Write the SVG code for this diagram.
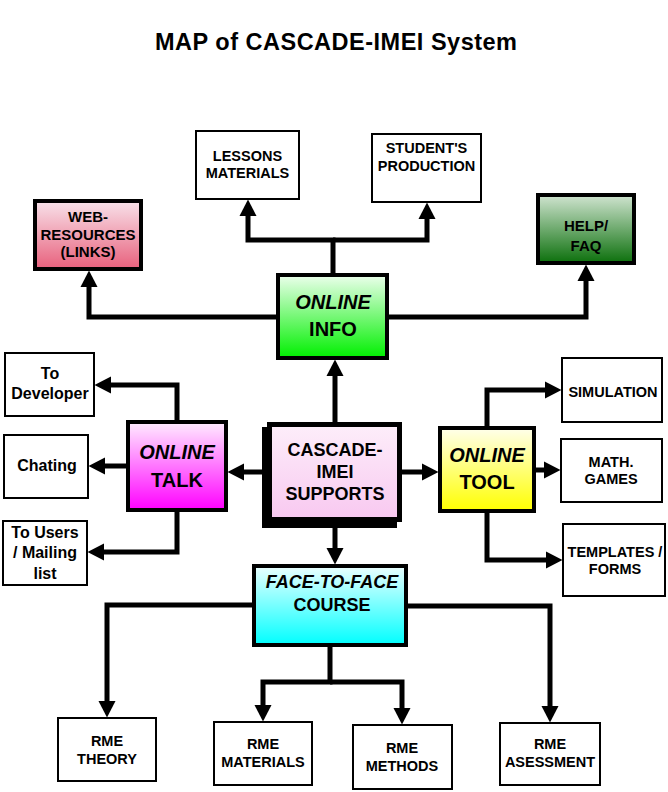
<svg xmlns="http://www.w3.org/2000/svg" width="668" height="792" viewBox="0 0 668 792">
<style>
text{font-family:"Liberation Sans",Arial,sans-serif;font-weight:bold;fill:#000;text-anchor:middle}
.s{font-size:14.5px}
.m{font-size:15px}
.l{font-size:16px}
.b{font-size:20px}
.c{font-size:18px}
.i{font-style:italic}
.thin{stroke:#000;stroke-width:2;fill:#fff}
.thick{stroke:#000;stroke-width:4}
.con path{fill:none;stroke:#000;stroke-width:5;stroke-linejoin:miter}
.con path.a{marker-end:url(#arr)}
</style>
<defs>
<marker id="arr" viewBox="0 -9 17 18" markerWidth="17" markerHeight="18" refX="0" refY="0" markerUnits="userSpaceOnUse" orient="auto">
<path d="M0,-8.5 L16.5,0 L0,8.5 Z" fill="#000"/>
</marker>
<linearGradient id="gWeb" x1="0" y1="0" x2="0" y2="1"><stop offset="0" stop-color="#f8e2ea"/><stop offset="1" stop-color="#e8607c"/></linearGradient>
<linearGradient id="gHelp" x1="0" y1="0" x2="0" y2="1"><stop offset="0" stop-color="#d0e4d0"/><stop offset="1" stop-color="#0c700c"/></linearGradient>
<linearGradient id="gInfo" x1="0" y1="0" x2="0" y2="1"><stop offset="0" stop-color="#ecffec"/><stop offset="1" stop-color="#00f000"/></linearGradient>
<linearGradient id="gTalk" x1="0" y1="0" x2="0" y2="1"><stop offset="0" stop-color="#ffecff"/><stop offset="1" stop-color="#ff00ff"/></linearGradient>
<linearGradient id="gTool" x1="0" y1="0" x2="0" y2="1"><stop offset="0" stop-color="#ffffec"/><stop offset="1" stop-color="#ffff00"/></linearGradient>
<linearGradient id="gFace" x1="0" y1="0" x2="0" y2="1"><stop offset="0" stop-color="#ecffff"/><stop offset="1" stop-color="#00ffff"/></linearGradient>
<linearGradient id="gCas" x1="0" y1="0" x2="0" y2="1"><stop offset="0" stop-color="#fdeefa"/><stop offset="1" stop-color="#f8c8f0"/></linearGradient>
</defs>
<rect width="668" height="792" fill="#fff"/>
<text x="336" y="50" style="font-size:23.5px" textLength="362" lengthAdjust="spacing">MAP of CASCADE-IMEI System</text>

<g class="con" id="connectors">
<path class="a" d="M333,273 V240 H248 V216"/>
<path class="a" d="M333,240 H427 V219"/>
<path class="a" d="M276,317 H89 V287"/>
<path class="a" d="M389,317 H586 V281"/>
<path class="a" d="M335,422 V376"/>
<path class="a" d="M262,472 H244"/>
<path class="a" d="M402,472 H422"/>
<path class="a" d="M335,528 V548"/>
<path class="a" d="M177,420 V385 H111"/>
<path class="a" d="M126,466 H105"/>
<path class="a" d="M177,512 V552 H104"/>
<path class="a" d="M487,426 V390 H545"/>
<path class="a" d="M536,470 H544"/>
<path class="a" d="M487,513 V560 H546"/>
<path class="a" d="M252,605 H107 V701"/>
<path class="a" d="M330,647 V682 H263 V705"/>
<path class="a" d="M330,682 H402 V708"/>
<path class="a" d="M408,606 H550 V706"/>
</g>

<g id="lessons"><rect class="thin" x="196" y="131" width="103" height="68"/><text class="s" x="247.5" y="161">LESSONS</text><text class="s" x="247.5" y="178">MATERIALS</text></g>
<g id="students"><rect class="thin" x="372" y="134" width="109" height="68"/><text class="s" x="426.5" y="153">STUDENT'S</text><text class="s" x="426.5" y="171">PRODUCTION</text></g>
<g id="web"><rect class="thick" fill="url(#gWeb)" x="35" y="201" width="106" height="68"/><text class="m" x="88" y="222">WEB-</text><text class="m" x="88" y="240">RESOURCES</text><text class="m" x="88" y="257">(LINKS)</text></g>
<g id="help"><rect class="thick" fill="url(#gHelp)" x="538" y="195" width="96" height="68"/><text class="m" x="586" y="231">HELP/</text><text class="m" x="586" y="251">FAQ</text></g>
<g id="info"><rect class="thick" fill="url(#gInfo)" x="278" y="275" width="109" height="83"/><text class="b i" x="333" y="309">ONLINE</text><text class="b" x="333" y="336">INFO</text></g>
<g id="cascade"><rect x="262" y="427" width="135" height="101" fill="#000"/><rect fill="url(#gCas)" stroke="#000" stroke-width="5" x="269.5" y="424.5" width="130" height="95"/><text class="c" x="335" y="456">CASCADE-</text><text class="c" x="335" y="478">IMEI</text><text class="c" x="335" y="500">SUPPORTS</text></g>
<g id="talk"><rect class="thick" fill="url(#gTalk)" x="128" y="422" width="98" height="88"/><text class="b i" x="177" y="459">ONLINE</text><text class="b" x="177" y="486.5">TALK</text></g>
<g id="tool"><rect class="thick" fill="url(#gTool)" x="440" y="428" width="94" height="83"/><text class="b i" x="487" y="462">ONLINE</text><text class="b" x="487" y="489">TOOL</text></g>
<g id="face"><rect class="thick" fill="url(#gFace)" x="254" y="566" width="152" height="79"/><text class="c i" x="332" y="588">FACE-TO-FACE</text><text class="c" x="332" y="611">COURSE</text></g>
<g id="developer"><rect class="thin" x="5" y="353" width="89" height="63"/><text class="l" x="50" y="379">To</text><text class="l" x="50" y="399">Developer</text></g>
<g id="chating"><rect class="thin" x="4" y="435" width="84" height="63"/><text class="l" x="47" y="471">Chating</text></g>
<g id="users"><rect class="thin" x="3" y="521" width="84" height="64"/><text class="l" x="45" y="538">To Users</text><text class="l" x="45" y="558">/ Mailing</text><text class="l" x="45" y="579">list</text></g>
<g id="simulation"><rect class="thin" x="562" y="358" width="100" height="64"/><text class="s" x="613" y="397">SIMULATION</text></g>
<g id="math"><rect class="thin" x="561" y="439" width="101" height="63"/><text class="s" x="611" y="467">MATH.</text><text class="s" x="611" y="484">GAMES</text></g>
<g id="templates"><rect class="thin" x="563" y="524" width="102" height="72"/><text class="s" x="615" y="557">TEMPLATES /</text><text class="s" x="615" y="574">FORMS</text></g>
<g id="theory"><rect class="thin" x="58" y="718" width="98" height="63"/><text class="s" x="107" y="746">RME</text><text class="s" x="107" y="764">THEORY</text></g>
<g id="materials"><rect class="thin" x="214" y="722" width="98" height="63"/><text class="s" x="263" y="749">RME</text><text class="s" x="263" y="767">MATERIALS</text></g>
<g id="methods"><rect class="thin" x="353" y="725" width="99" height="64"/><text class="s" x="402" y="753">RME</text><text class="s" x="402" y="771">METHODS</text></g>
<g id="assessment"><rect class="thin" x="500" y="723" width="100" height="62"/><text class="s" x="550" y="749">RME</text><text class="s" x="550" y="767">ASESSMENT</text></g>
</svg>
